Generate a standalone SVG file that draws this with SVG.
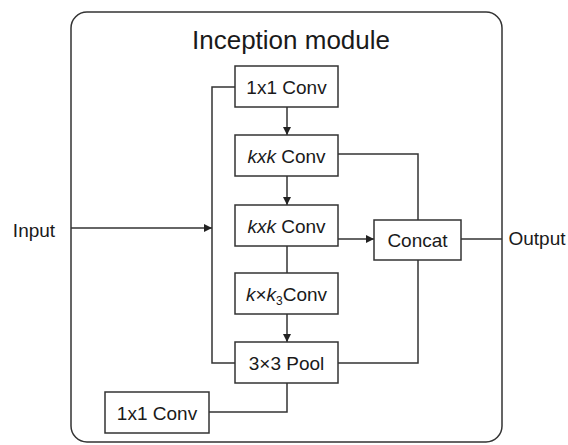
<svg xmlns="http://www.w3.org/2000/svg" width="568" height="445" viewBox="0 0 568 445">
<style>
.box{fill:#fff;stroke:#333;stroke-width:1.5}
.ln{fill:none;stroke:#333;stroke-width:1.5}
.t{font-family:"Liberation Sans",Arial,sans-serif;font-size:19px;fill:#1a1a1a;text-anchor:middle}
.title{font-size:26px}
.it{font-style:italic}
</style>
<defs>
<marker id="ah" viewBox="0 0 10 10" refX="10" refY="5" markerWidth="8" markerHeight="8" markerUnits="userSpaceOnUse" orient="auto">
<path d="M0,0 L10,5 L0,10 z" fill="#222"/>
</marker>
</defs>
<rect width="568" height="445" fill="#fff"/>
<g id="module">
<rect x="71" y="12" width="431" height="430" rx="16" class="ln"/>
<text class="t title" x="291" y="49">Inception module</text>
</g>
<g id="connectors">
<line class="ln" x1="71" y1="228" x2="212" y2="228" marker-end="url(#ah)"/>
<polyline class="ln" points="235,87 212,87 212,363 235,363"/>
<line class="ln" x1="287" y1="107" x2="287" y2="135" marker-end="url(#ah)"/>
<line class="ln" x1="287" y1="176" x2="287" y2="205" marker-end="url(#ah)"/>
<line class="ln" x1="287" y1="246" x2="287" y2="273"/>
<line class="ln" x1="287" y1="314" x2="287" y2="342" marker-end="url(#ah)"/>
<polyline class="ln" points="338,154 418,154 418,220"/>
<line class="ln" x1="338" y1="239" x2="374" y2="239" marker-end="url(#ah)"/>
<polyline class="ln" points="338,363 418,363 418,260"/>
<line class="ln" x1="461" y1="239" x2="502" y2="239"/>
<polyline class="ln" points="287,383 287,412 209,412"/>
</g>
<g id="conv1">
<rect class="box" x="235" y="66" width="103" height="41"/>
<text class="t" x="286.5" y="93.5">1x1 Conv</text>
</g>
<g id="kxk1">
<rect class="box" x="235" y="135" width="103" height="41"/>
<text class="t" x="286.5" y="162.5"><tspan class="it">kxk</tspan> Conv</text>
</g>
<g id="kxk2">
<rect class="box" x="235" y="205" width="103" height="41"/>
<text class="t" x="286.5" y="232.5"><tspan class="it">kxk</tspan> Conv</text>
</g>
<g id="kxk3">
<rect class="box" x="235" y="273" width="103" height="41"/>
<text class="t" x="286.5" y="300.5"><tspan class="it">k</tspan>×<tspan class="it">k</tspan><tspan font-size="12" dy="4">3</tspan><tspan dy="-4">Conv</tspan></text>
</g>
<g id="pool">
<rect class="box" x="235" y="342" width="103" height="41"/>
<text class="t" x="286.5" y="369.5">3×3 Pool</text>
</g>
<g id="conv1b">
<rect class="box" x="105" y="392" width="104" height="41"/>
<text class="t" x="157" y="419.5">1x1 Conv</text>
</g>
<g id="concat">
<rect class="box" x="374" y="220" width="87" height="40"/>
<text class="t" x="417.5" y="247">Concat</text>
</g>
<g id="labels">
<text class="t" x="34" y="237">Input</text>
<text class="t" x="537" y="245">Output</text>
</g>
</svg>
